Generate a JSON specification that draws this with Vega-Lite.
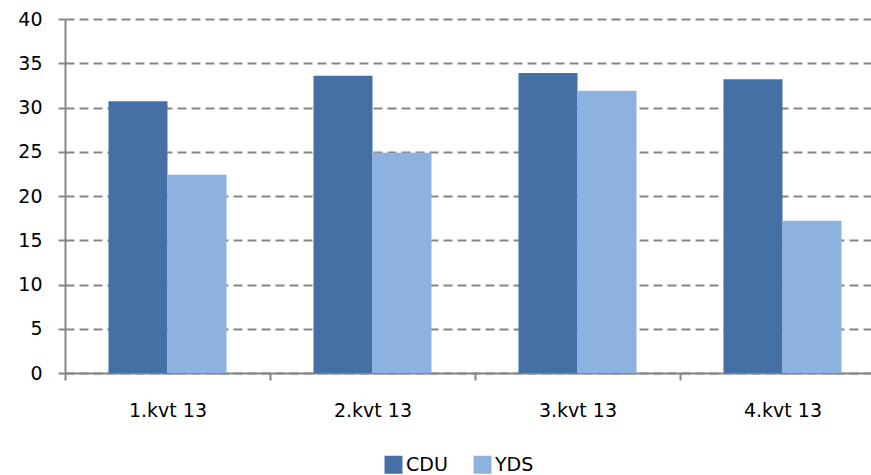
{
  "$schema": "https://vega.github.io/schema/vega-lite/v6.json",
  "width": 820,
  "height": 354,
  "autosize": {"type": "none"},
  "padding": {"left": 65, "top": 19, "right": -14, "bottom": 102},
  "background": "white",
  "config": {
    "view": {"stroke": null},
    "font": "DejaVu Sans",
    "axis": {"labelFont": "DejaVu Sans", "labelColor": "#000000", "labelFontSize": 19}
  },
  "data": {
    "values": [
      {"quarter": "1.kvt 13", "party": "CDU", "value": 30.7},
      {"quarter": "1.kvt 13", "party": "YDS", "value": 22.4},
      {"quarter": "2.kvt 13", "party": "CDU", "value": 33.6},
      {"quarter": "2.kvt 13", "party": "YDS", "value": 24.9},
      {"quarter": "3.kvt 13", "party": "CDU", "value": 33.9},
      {"quarter": "3.kvt 13", "party": "YDS", "value": 31.9},
      {"quarter": "4.kvt 13", "party": "CDU", "value": 33.2},
      {"quarter": "4.kvt 13", "party": "YDS", "value": 17.2}
    ]
  },
  "mark": {"type": "bar"},
  "encoding": {
    "x": {
      "field": "quarter",
      "type": "nominal",
      "sort": null,
      "scale": {"paddingInner": 0, "paddingOuter": 0},
      "axis": {
        "title": null,
        "labelAngle": 0,
        "tickBand": "extent",
        "domainColor": "#868686",
        "domainWidth": 2,
        "tickColor": "#868686",
        "tickWidth": 2,
        "tickSize": 7,
        "labelPadding": 21,
        "grid": false
      }
    },
    "xOffset": {
      "field": "party",
      "type": "nominal",
      "sort": ["CDU", "YDS"],
      "scale": {"paddingInner": 0, "paddingOuter": 0.737}
    },
    "y": {
      "field": "value",
      "type": "quantitative",
      "scale": {"domain": [0, 40], "nice": false},
      "axis": {
        "title": null,
        "values": [0, 5, 10, 15, 20, 25, 30, 35, 40],
        "domainColor": "#868686",
        "domainWidth": 2,
        "tickColor": "#868686",
        "tickWidth": 2,
        "tickSize": 7,
        "labelPadding": 16,
        "gridColor": "#868686",
        "gridWidth": 2,
        "gridDash": [9, 5],
        "gridOpacity": 1
      }
    },
    "color": {
      "field": "party",
      "type": "nominal",
      "scale": {"domain": ["CDU", "YDS"], "range": ["#4470A5", "#8EB2E0"]},
      "legend": {
        "title": null,
        "orient": "none",
        "direction": "horizontal",
        "legendX": 319,
        "legendY": 436,
        "symbolType": "square",
        "symbolSize": 324,
        "symbolStrokeWidth": 0,
        "symbolOpacity": 1,
        "labelFontSize": 19,
        "labelFont": "DejaVu Sans",
        "labelColor": "#000000",
        "labelOffset": 3,
        "columnPadding": 25
      }
    }
  }
}
